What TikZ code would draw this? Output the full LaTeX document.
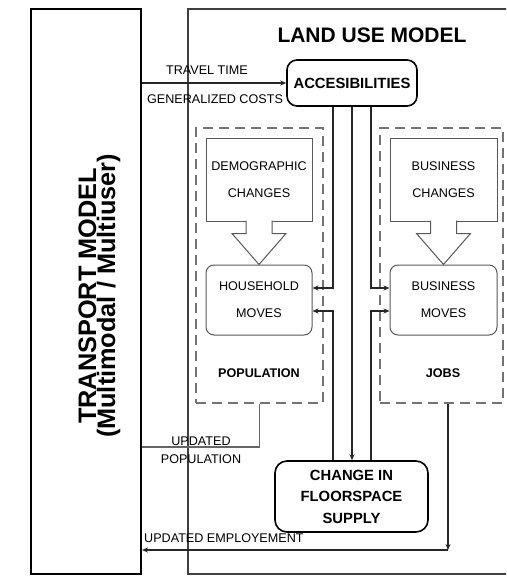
\documentclass[tikz,border=0pt]{standalone}
\usepackage{fontspec}
\setmainfont{Liberation Sans}
\usetikzlibrary{arrows.meta}

\begin{document}
\begin{tikzpicture}[
  x=1pt, y=-1pt,
  every node/.style={inner sep=0pt, align=center, font=\fontsize{12.6}{27}\selectfont},
  model/.style={draw, line width=2pt, minimum width=110pt, minimum height=565pt},
  frame/.style={draw=black!75, line width=1.2pt},
  group/.style={draw=black!55, line width=1.5pt, dash pattern=on 10pt off 6pt},
  inbox/.style={draw=black!65, line width=1pt},
  movebox/.style={inbox, rounded corners=8pt, minimum height=70pt},
  keybox/.style={draw, line width=1.6pt, rounded corners=10pt, font=\bfseries\fontsize{14.8}{21.5}\selectfont},
  flow/.style={draw=black!85, line width=1.5pt, -{Stealth[length=6pt,width=5pt]}},
  feed/.style={draw=black!60, line width=1.2pt}
]
  \fill[white] (0,0) rectangle (506,580);
  \useasboundingbox (0,0) rectangle (506,580);
  \clip (0,0) rectangle (506,580);

  % the two models
  \node[frame, minimum width=332pt, minimum height=565pt] (lu) at (354,291.5) {};
  \node[model] (tm) at (86,291.5) {};
  \node[rotate=90, font=\bfseries\fontsize{25.3}{19}\selectfont] (tmtext) at (99.5,296)
    {TRANSPORT MODEL\\(Multimodal / Multiuser)};
  \node[font=\bfseries\fontsize{21}{25}\selectfont] (lutext) at (372,35) {LAND USE MODEL};

  % groups
  \node[group, minimum width=127pt, minimum height=275pt] (pop) at (259.5,265.5) {};
  \node[group, minimum width=123pt, minimum height=275pt] (jobs) at (441.5,265.5) {};
  \node[font=\bfseries\fontsize{12.6}{15}\selectfont] (poptext) at (259,373) {POPULATION};
  \node[font=\bfseries\fontsize{12.6}{15}\selectfont] (jobstext) at (443,373) {JOBS};

  % boxes inside the groups
  \node[inbox, minimum width=106pt, minimum height=82pt] (dc) at (259,180) {DEMOGRAPHIC\\CHANGES};
  \node[inbox, minimum width=107pt, minimum height=82pt] (bc) at (443.5,180) {BUSINESS\\CHANGES};
  \node[movebox, minimum width=106pt] (hh) at (259,300) {HOUSEHOLD\\MOVES};
  \node[movebox, minimum width=107pt] (bm) at (443.5,300) {BUSINESS\\MOVES};

  % block arrows
  \draw[inbox, fill=white] ([xshift=-13pt,yshift=1pt]dc.south) -- ++(0,13) -- ++(-14,0)
    -- (hh.north) -- ([xshift=27pt,yshift=-12pt]dc.south) -- ++(-14,0) -- ++(0,-13);
  \draw[inbox, fill=white] ([xshift=-13pt,yshift=1pt]bc.south) -- ++(0,13) -- ++(-14,0)
    -- (bm.north) -- ([xshift=27pt,yshift=-12pt]bc.south) -- ++(-14,0) -- ++(0,-13);

  % key boxes
  \node[keybox, minimum width=130pt, minimum height=46pt] (acc) at (352,83) {ACCESIBILITIES};
  \node[keybox, rounded corners=12pt, minimum width=153pt, minimum height=71pt] (fl) at (351.5,496.5)
    {CHANGE IN\\FLOORSPACE\\SUPPLY};

  % travel time
  \draw[flow, line width=1.2pt] (tm.east |- acc.west) -- (acc.west);
  \node (tt) at (207,70) {TRAVEL TIME};
  \node (gc) at (215,99) {GENERALIZED COSTS};

  % accesibilities to the moves
  \coordinate (al) at ([xshift=-19pt]acc.south);
  \coordinate (ar) at ([xshift=19pt]acc.south);
  \draw[flow] (al) |- ([yshift=12pt]hh.east);
  \draw[flow] (ar) |- ([yshift=12pt]bm.west);
  \draw[flow] (acc.south) -- (acc.south |- fl.north);
  \draw[flow] (fl.north -| al) |- ([yshift=-11pt]hh.east);
  \draw[flow] (fl.north -| ar) |- ([yshift=-11pt]bm.west);

  % back to the transport model
  \coordinate (pb) at (pop.south |- 0,447);
  \draw[feed] (pop.south) -- (pb) -- (tm.east |- pb);
  \node (up1) at (201,441) {UPDATED};
  \node (up2) at (201,459) {POPULATION};

  \coordinate (jt) at ([xshift=6.5pt]jobs.south);
  \coordinate (eb) at (jt |- 0,550);
  \draw[flow, line width=1.3pt] (jt) -- (eb);
  \draw[flow, line width=1.3pt] (eb) -- (tm.east |- eb);
  \node[anchor=west] (ue) at (144,538) {UPDATED EMPLOYEMENT};
\end{tikzpicture}
\end{document}
